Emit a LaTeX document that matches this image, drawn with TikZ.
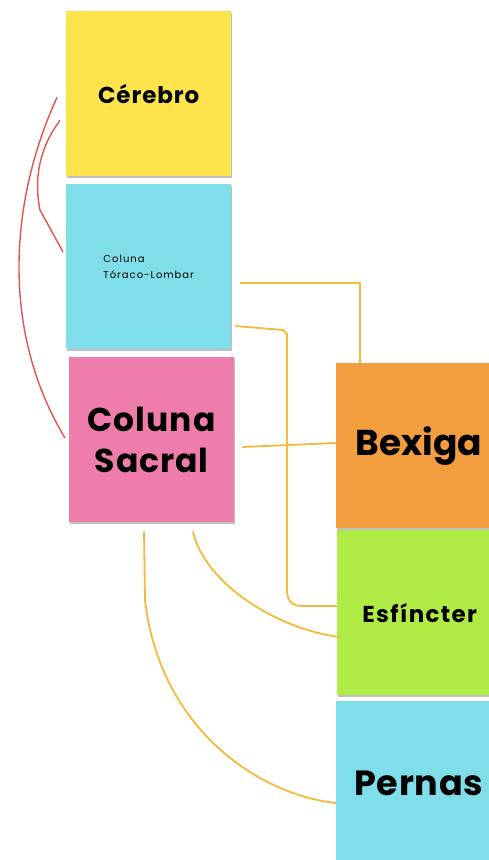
\documentclass[tikz,border=0pt]{standalone}
\usepackage{fontspec}
\setmainfont{Poppins}
\usetikzlibrary{shadows}
\definecolor{cyel}{HTML}{FDE34C}
\definecolor{ccya}{HTML}{80DEEA}
\definecolor{cpin}{HTML}{EE7DAB}
\definecolor{cora}{HTML}{F29D3E}
\definecolor{cgre}{HTML}{B0EB46}
\definecolor{lred}{HTML}{E0554C}
\definecolor{lora}{HTML}{F6B93B}
\begin{document}
\begin{tikzpicture}[x=1pt,y=-1pt,
  note/.style={anchor=north west,minimum width=165pt,minimum height=165pt,inner sep=0pt,
    align=center,font=\bfseries,text=black,
    drop shadow={shadow xshift=0.6pt,shadow yshift=-1.6pt,opacity=0.25,fill=black}},
  redl/.style={draw=lred,line width=1.4pt},
  oral/.style={draw=lora,line width=1.8pt}]
\useasboundingbox (0,0) rectangle (489,860);
\node[note,fill=cyel,font=\bfseries\fontsize{23}{28}\selectfont\addfontfeature{LetterSpace=4}] (cer) at (66,11) {Cérebro};
\node[note,fill=ccya,font=\fontsize{10}{16}\selectfont\addfontfeature{LetterSpace=10},align=left] (tl) at (66,184) {Coluna\\Tóraco-Lombar};
\node[note,fill=cpin,font=\bfseries\fontsize{33}{41}\selectfont\addfontfeature{LetterSpace=3}] (sac) at (69,357) {Coluna\\Sacral};
\node[note,fill=cora,font=\bfseries\fontsize{36}{42}\selectfont] (bex) at (336,363) {Bexiga};
\node[note,fill=cgre,font=\bfseries\fontsize{23}{28}\selectfont\addfontfeature{LetterSpace=6}] (esf) at (337,530) {Esfíncter};
\node[note,fill=ccya,font=\bfseries\fontsize{35}{42}\selectfont\addfontfeature{LetterSpace=2}] (per) at (336,701) {Pernas};
% red connectors
\coordinate (r1a) at ([shift={(-9,-79)}]cer.south west);
\coordinate (r1b) at ([shift={(-4,81)}]sac.north west);
\draw[redl] (r1a) .. controls (10,200) and (0,330) .. (r1b);
\coordinate (r2a) at ([shift={(-6,-56)}]cer.south west);
\coordinate (r2b) at ([shift={(-3,68)}]tl.north west);
\draw[redl] (r2a) .. controls (30,160) and (38,200) .. (40,210) -- (r2b);
% orange connectors
\coordinate (o1a) at ([shift={(9,99)}]tl.north east);
\coordinate (o1b) at ([shift={(24,0)}]bex.north west);
\draw[oral] (o1a) -- (o1b |- o1a) -- (o1b);
\coordinate (o2a) at ([shift={(4,142)}]tl.north east);
\coordinate (o2b) at ([shift={(0,76)}]esf.north west);
\draw[oral] (o2a) -- (283,330) -- (287,334) -- (287,592) .. controls (288,604) and (295,606) .. (302,606) -- (o2b);
\coordinate (o3a) at ([shift={(8,90)}]sac.north east);
\coordinate (o3b) at ([shift={(0,80)}]bex.north west);
\draw[oral] (o3a) -- (o3b);
\coordinate (o4a) at ([shift={(124,9)}]sac.south west);
\coordinate (o4b) at ([shift={(3,107)}]esf.north west);
\draw[oral] (o4a) .. controls (205,585) and (280,630) .. (o4b);
\coordinate (o5a) at ([shift={(75,9)}]sac.south west);
\draw[oral] (o5a) -- (145,600) .. controls (160,730) and (260,795) .. ([shift={(0,102)}]per.north west);
\end{tikzpicture}
\end{document}
